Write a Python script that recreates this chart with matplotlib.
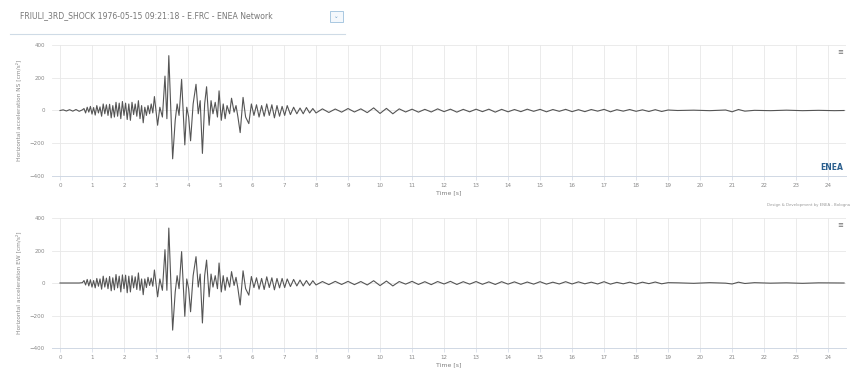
import numpy as np
import matplotlib
matplotlib.use('Agg')
import matplotlib.pyplot as plt
from matplotlib.patches import Rectangle

title = 'FRIULI_3RD_SHOCK 1976-05-15 09:21:18 - E.FRC - ENEA Network'
ylabels = ['Horizontal acceleration NS [cm/s²]', 'Horizontal acceleration EW [cm/s²]']
xlabel = 'Time [s]'
credit = 'Design & Development by ENEA - Bologna'

# times of the peaks/troughs (s)
t_pts = [0.0, 0.1, 0.2, 0.3, 0.4, 0.5, 0.6, 0.7,
         0.75, 0.8, 0.85, 0.9, 0.95, 1.0, 1.05, 1.1, 1.15, 1.2, 1.25, 1.3,
         1.35, 1.4, 1.45, 1.5, 1.55, 1.6, 1.65, 1.7, 1.75, 1.8, 1.85, 1.9,
         1.95, 2.0, 2.05, 2.1, 2.15, 2.2, 2.25, 2.3, 2.35, 2.4, 2.45, 2.5,
         2.55, 2.6, 2.65, 2.7, 2.75, 2.8, 2.85, 2.9, 2.95,
         3.05, 3.12, 3.2, 3.28, 3.34, 3.4, 3.52, 3.6, 3.66, 3.72, 3.8, 3.9, 3.96,
         4.02, 4.08, 4.16, 4.25, 4.32, 4.38, 4.45, 4.52, 4.58, 4.66, 4.72, 4.78,
         4.85, 4.92, 4.97, 5.04, 5.1, 5.16, 5.22, 5.3, 5.36, 5.44, 5.5, 5.56,
         5.63, 5.72, 5.8, 5.9, 5.98,
         6.06, 6.14, 6.22, 6.3, 6.38, 6.46, 6.54, 6.62, 6.7, 6.78, 6.86, 6.94,
         7.02, 7.1, 7.2, 7.3, 7.4, 7.5, 7.6, 7.7, 7.8, 7.9, 8.0,
         8.2, 8.4, 8.6, 8.8, 9.0, 9.2, 9.4, 9.6, 9.8, 10.0, 10.2, 10.4, 10.6,
         10.8, 11.0, 11.2, 11.4, 11.6, 11.8, 12.0, 12.2, 12.4, 12.6, 12.8, 13.0,
         13.2, 13.4, 13.6, 13.8, 14.0, 14.2, 14.4, 14.6, 14.8, 15.0, 15.2, 15.4,
         15.6, 15.8, 16.0, 16.2, 16.4, 16.6, 16.8, 17.0, 17.2, 17.4, 17.6, 17.8,
         18.0, 18.2, 18.4, 18.6, 18.8, 19.0,
         19.3, 19.8, 20.3, 20.8, 21.0, 21.2, 21.4, 21.7, 22.2, 22.7, 23.2, 23.7,
         24.2, 24.5]

acc_top = [0, 4, -3, 5, -4, 6, -5, 4,
           12, -15, 20, -10, 25, -22, 18, -28, 30, -15, 22, -35,
           40, -20, 35, -30, 38, -45, 30, -40, 50, -35, 45, -50,
           55, -30, 45, -55, 40, -60, 50, -25, 40, -35, 60, -50,
           30, -75, 20, -30, 30, -20, 40, -15, 85,
           -90, 20, -40, 210, -50, 335, -295, -60, 40, -30, 190, -210, 20,
           -40, -185, 40, 160, -20, 60, -262, 40, 145, -90, 60, -20,
           50, -40, 120, -60, 40, -50, 30, -20, 75, -10, 30, -40,
           -135, 80, -40, -80, 40,
           -30, 35, -40, 30, -35, 40, -30, 35, -45, 30, -35, 25,
           -30, 30, -25, 20, -20, 15, -20, 18, -15, 12, -15,
           10, -12, 9, -10, 12, -9, 10, -13, 16, -18, 13, -20, 10,
           -9, 8, -10, 7, -9, 10, -7, 8, -10, 7, -8, 8,
           -7, 8, -10, 7, -8, 6, -7, 8, -5, 7, -8, 6,
           -5, 7, -7, 5, -7, 6, -4, 7, -8, 5, -4, 6,
           -5, 4, -6, 5, -6, 3,
           0, 2, -1, 3, -8, 6, -4, 1, -1, 2, -1, 1,
           -1, 0]

acc_bot = [0, 0, 0, 0, 0, 0, 0, 2,
           15, -12, 22, -18, 20, -25, 15, -30, 28, -20, 25, -38,
           42, -25, 30, -35, 40, -48, 32, -42, 52, -30, 42, -55,
           50, -35, 48, -60, 42, -55, 45, -30, 38, -40, 62, -45,
           25, -72, 25, -28, 35, -15, 30, -20, 80,
           -85, 25, -45, 205, -45, 338, -290, -55, 45, -35, 193, -205, 25,
           -35, -177, 45, 162, -25, 55, -246, 45, 141, -85, 55, -25,
           45, -35, 123, -55, 45, -45, 35, -25, 70, -15, 35, -35,
           -135, 75, -35, -75, 40,
           -28, 32, -38, 28, -40, 38, -28, 32, -42, 28, -30, 28,
           -28, 25, -22, 22, -18, 18, -18, 15, -15, 14, -12,
           9, -10, 10, -9, 10, -10, 9, -12, 14, -16, 12, -18, 9,
           -7, 10, -9, 8, -10, 9, -6, 10, -9, 8, -7, 9,
           -8, 7, -9, 8, -7, 7, -8, 6, -7, 8, -7, 5,
           -6, 8, -6, 7, -5, 5, -6, 8, -7, 4, -5, 5,
           -6, 5, -4, 6, -5, 2,
           1, -2, 2, -1, -6, 5, -3, 2, -1, 1, -2, 1,
           0, 0]

yticks = [-400, -200, 0, 200, 400]
xticks = list(range(0, 25))

fig = plt.figure(figsize=(8.52, 3.69), dpi=100)

# title block
fig.text(20/852, 1-16/369, title, fontsize=5.6, color='#777777', ha='left', va='center')
fig.patches.append(Rectangle((330/852, 1-22/369), 13/852, 11/369, transform=fig.transFigure,
                             facecolor='#f4f8fc', edgecolor='#9cc0dc', lw=0.6))
fig.text(336.5/852, 1-16.5/369, '⌄', fontsize=4, color='#6a9cc6', ha='center', va='center')
fig.lines.append(plt.Line2D([10/852, 345/852], [1-34/369, 1-34/369], transform=fig.transFigure,
                            color='#cfdbe6', lw=0.8))

boxes = [[52/852, 1-176/369, 794/852, 131/369],
         [52/852, 1-348/369, 794/852, 130/369]]

for i, (box, vals) in enumerate(zip(boxes, [acc_top, acc_bot])):
    ax = fig.add_axes(box)
    ax.plot(t_pts, vals, color='#555555', lw=0.8)
    ax.set_xlim(-0.25, 24.56)
    ax.set_ylim(-400, 400)
    ax.set_xticks(xticks)
    ax.set_yticks(yticks)
    ax.grid(True, color='#e8e8e8', lw=0.6)
    ax.set_axisbelow(True)
    for s in ['top', 'right', 'left']:
        ax.spines[s].set_visible(False)
    ax.spines['bottom'].set_color('#d0d8e4')
    ax.spines['bottom'].set_linewidth(0.7)
    ax.tick_params(axis='x', length=3, width=0.5, color='#d0d8e4', labelsize=4, labelcolor='#888888', pad=2)
    ax.tick_params(axis='y', length=0, labelsize=4, labelcolor='#888888', pad=5)
    ax.set_xlabel(xlabel, fontsize=4.5, color='#808080', labelpad=2)
    ax.set_ylabel(ylabels[i], fontsize=4.2, color='#8a8a8a', labelpad=6)
    # menu button
    ax.text(0.997, 0.97, '≡', transform=ax.transAxes, fontsize=5, color='#666666',
            ha='right', va='top')

# logo and credits
fig.text(843/852, 1-167/369, 'ENEA', fontsize=5.5, color='#2b5f8e', weight='bold',
         ha='right', va='center')
fig.text(850/852, 1-205/369, credit, fontsize=2.8, color='#999999', ha='right', va='center')

fig.savefig('out.png', dpi=100)
